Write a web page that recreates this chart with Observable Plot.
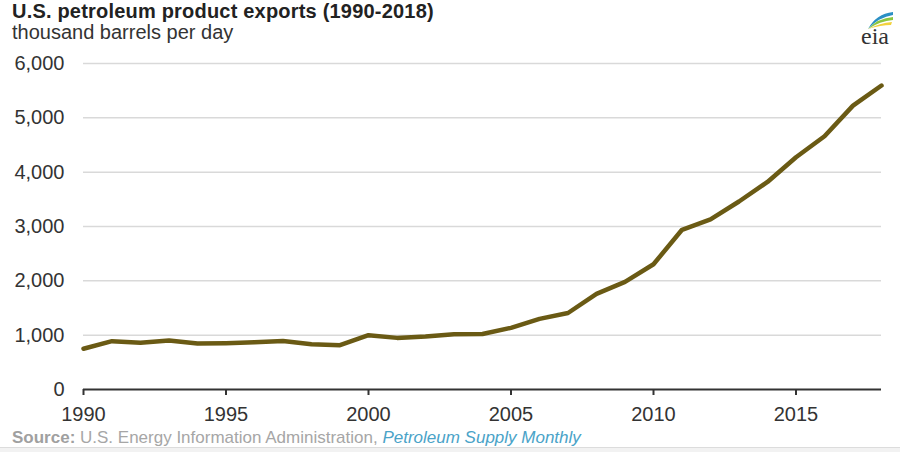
<!DOCTYPE html>
<html>
<head>
<meta charset="utf-8">
<script src="https://cdn.jsdelivr.net/npm/d3@7"></script>
<script src="https://cdn.jsdelivr.net/npm/@observablehq/plot@0.6"></script>
<style>
  html, body { margin: 0; padding: 0; background: #fff; }
  #wrap { position: relative; width: 900px; height: 452px; overflow: hidden; font-family: "Liberation Sans", Arial, sans-serif; }
  #title { position: absolute; left: 12px; top: 0px; font-size: 20px; font-weight: bold; color: #222; white-space: nowrap; letter-spacing: 0.2px; }
  #subtitle { position: absolute; left: 12px; top: 21px; font-size: 20px; color: #333; white-space: nowrap; }
  #chart { position: absolute; left: 0; top: 48px; }
  #source { position: absolute; left: 12px; top: 428px; font-size: 17px; color: #a6a6a6; white-space: nowrap; }
  #source b { color: #a0a0a0; }
  #source i { color: #4aa3c8; }
  #rule { position: absolute; left: 0; top: 447px; width: 900px; height: 5px; background: #f2f2f2; border-top: 1px solid #dcdcdc; }
  #logo { position: absolute; left: 850px; top: 8px; }
</style>
</head>
<body>
<div id="wrap">
  <div id="title">U.S. petroleum product exports (1990-2018)</div>
  <div id="subtitle">thousand barrels per day</div>
  <div id="chart"></div>
  <div id="source"><b>Source:</b> U.S. Energy Information Administration, <i>Petroleum Supply Monthly</i></div>
  <div id="rule"></div>
  <svg id="logo" width="50" height="42" viewBox="0 0 50 42">
    <path d="M18 21 Q26 6 43 4 L43 7 Q29 9 18 21 Z" fill="#2a8fc4"/>
    <path d="M18 21 Q28 10 43 9 L43 12 Q30 13 18 21 Z" fill="#8cc63f"/>
    <path d="M18 21 Q30 15 42 14 L41 17 Q31 17 18 21 Z" fill="#f2d13c"/>
    <text x="11" y="36" font-family="Liberation Serif, Times New Roman, serif" font-size="24" fill="#333">eia</text>
  </svg>
</div>
<script>
const years = [1990, 1991, 1992, 1993, 1994, 1995, 1996, 1997, 1998, 1999,
               2000, 2001, 2002, 2003, 2004, 2005, 2006, 2007, 2008, 2009,
               2010, 2011, 2012, 2013, 2014, 2015, 2016, 2017, 2018];
const exportsKbd = [750, 890, 862, 900, 845, 852, 870, 893, 834, 815,
                    1000, 950, 975, 1015, 1022, 1135, 1300, 1408, 1760, 1980,
                    2305, 2940, 3130, 3460, 3820, 4275, 4660, 5225, 5595];
const xTicks = [1990, 1995, 2000, 2005, 2010, 2015];
const yTicks = [0, 1000, 2000, 3000, 4000, 5000, 6000];

const data = years.map((y, i) => ({year: y, value: exportsKbd[i]}));

const chart = Plot.plot({
  width: 900,
  height: 380,
  marginTop: 15,
  marginBottom: 39,
  marginLeft: 83,
  marginRight: 19,
  style: {fontFamily: "'Liberation Sans', Arial, sans-serif", fontSize: "20px", color: "#333", background: "transparent"},
  x: {domain: [1990, 2018]},
  y: {domain: [0, 6000]},
  marks: [
    Plot.gridY(yTicks.filter(d => d > 0), {stroke: "#d9d9d9", strokeOpacity: 1, strokeWidth: 1.5}),
    Plot.axisY(yTicks, {tickSize: 0, tickPadding: 19, fontSize: 20, fill: "#333", tickFormat: d3.format(","), label: null}),
    Plot.axisX(xTicks, {tickSize: 6, tickPadding: 11, fontSize: 20, fill: "#333", stroke: "#333", strokeWidth: 2, tickFormat: d => String(d), label: null}),
    Plot.ruleY([0], {stroke: "#333", strokeWidth: 2}),
    Plot.line(data, {x: "year", y: "value", stroke: "#6a5a14", strokeWidth: 4.5, strokeLinejoin: "round"})
  ]
});
document.getElementById("chart").appendChild(chart);
</script>
</body>
</html>
